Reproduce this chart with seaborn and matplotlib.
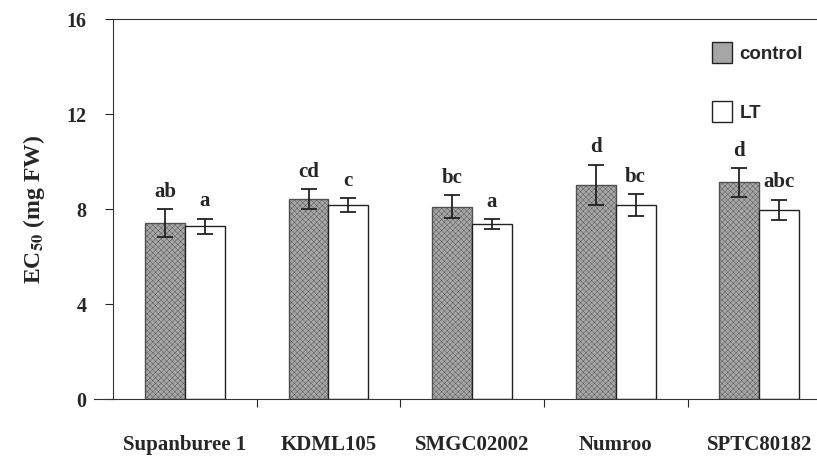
import pandas as pd
import matplotlib
matplotlib.use("Agg")
import matplotlib.pyplot as plt
import seaborn as sns

cultivars = ["Supanburee 1", "KDML105", "SMGC02002", "Numroo", "SPTC80182"]
control_mean = [7.42, 8.41, 8.10, 9.01, 9.12]
control_err = [0.58, 0.42, 0.47, 0.86, 0.60]
lt_mean = [7.27, 8.18, 7.37, 8.17, 7.96]
lt_err = [0.33, 0.30, 0.22, 0.45, 0.44]
control_letters = ["ab", "cd", "bc", "d", "d"]
lt_letters = ["a", "c", "a", "bc", "abc"]

df = pd.DataFrame({
    "cultivar": cultivars * 2,
    "treatment": ["control"] * 5 + ["LT"] * 5,
    "ec": control_mean + lt_mean,
})

sns.set_style("ticks")
plt.rcParams["font.family"] = ["Liberation Serif", "DejaVu Serif"]
plt.rcParams["mathtext.fontset"] = "stix"
plt.rcParams["mathtext.default"] = "bf"
plt.rcParams["hatch.linewidth"] = 0.3

fig = plt.figure(figsize=(8.17, 4.7), dpi=100)
ax = fig.add_axes([0.1383, 0.151, 0.879, 0.8085])

sns.barplot(data=df, x="cultivar", y="ec", hue="treatment",
            palette={"control": "#a6a6a6", "LT": "white"},
            width=0.555, errorbar=None, edgecolor="#222222",
            linewidth=1.0, ax=ax)

# stipple-like texture on control bars
for bar in ax.containers[0]:
    bar.set_hatch("xxxxxx")
    bar.set_edgecolor("#505050")

for cont, means, errs, letters in [
    (ax.containers[0], control_mean, control_err, control_letters),
    (ax.containers[1], lt_mean, lt_err, lt_letters),
]:
    xs = [b.get_x() + b.get_width() / 2 for b in cont]
    ax.errorbar(xs, means, yerr=errs, fmt="none", ecolor="#222222",
                elinewidth=1.3, capsize=6, capthick=1.3)
    for x, m, e, t in zip(xs, means, errs, letters):
        ax.text(x, m + e + 0.3, t, ha="center", va="bottom",
                fontsize=15, fontweight="bold")

ax.set_xlim(-0.5, 4.5)
ax.set_ylim(0, 16)
ax.set_yticks([0, 4, 8, 12, 16])
ax.set_xticks(range(5))
ax.set_xticklabels(cultivars, fontsize=15, fontweight="bold")
ax.tick_params(axis="x", length=0, pad=26)
ax.set_xticks([0.5, 1.5, 2.5, 3.5], minor=True)
ax.tick_params(axis="x", which="minor", length=6, width=0.8, direction="out")
ax.tick_params(axis="y", labelsize=14.5, length=6, width=0.8, pad=13)
for lab in ax.get_yticklabels():
    lab.set_fontweight("bold")

for s in ax.spines.values():
    s.set_linewidth(0.8)
    s.set_color("#333333")
ax.spines["bottom"].set_bounds(-0.63, 4.5)

ax.set_xlabel("")
ax.set_ylabel(r"EC$_{50}$ (mg FW)", fontsize=17, fontweight="bold", labelpad=14)

leg = ax.legend(loc="upper left", bbox_to_anchor=(0.81, 0.985), frameon=False,
                labelspacing=2.0, handlelength=1.1, handleheight=1.4,
                handletextpad=0.4, prop={"family": "Liberation Sans",
                                         "weight": "bold", "size": 13.5})
leg.set_title(None)

fig.savefig("out.png", dpi=100)
